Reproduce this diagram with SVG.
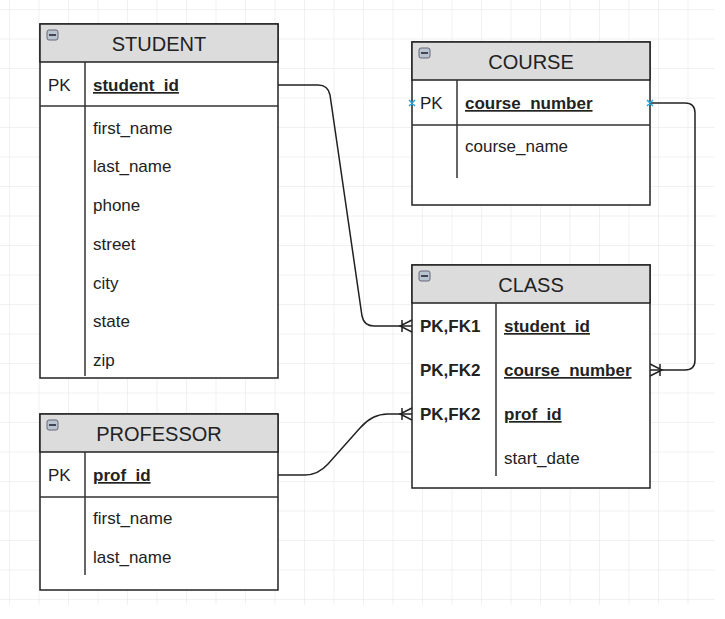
<svg xmlns="http://www.w3.org/2000/svg" width="725" height="619" viewBox="0 0 725 619">
<style>
.box{fill:#fff;stroke:#222;stroke-width:1.5}
.hd{fill:#dcdcdc;stroke:#222;stroke-width:1.5}
.ln{stroke:#333;stroke-width:1.5;fill:none}
.t{font-family:"Liberation Sans",Arial,sans-serif;font-size:17px;fill:#222}
.h{font-family:"Liberation Sans",Arial,sans-serif;font-size:20px;fill:#222;text-anchor:middle}
.b{font-weight:bold;text-decoration:underline}
.k{font-weight:bold}
.c{stroke:#222;stroke-width:1.5;fill:none}
</style>
<defs>
<pattern id="g" width="29.5" height="29.5" patternUnits="userSpaceOnUse" x="10" y="10">
<path d="M29.5 0V29.5H0" fill="none" stroke="#e4e4e4" stroke-width="1"/>
</pattern>
<g id="mini"><rect x="0" y="0" width="11" height="10" rx="2" fill="#b8c4d0" stroke="#667"/><rect x="2" y="4" width="7" height="2" fill="#445"/></g>
</defs>
<rect width="725" height="619" fill="#fff"/>
<rect x="0" y="0" width="715" height="605" fill="url(#g)"/>
<g id="connectors">
<path class="c" d="M278,85 H318 Q328,85 330,95 L362,316 Q364,326 374,326 H412"/>
<path class="c" d="M412,320 L400,326 L412,332 M402,320 V332"/>
<path class="c" d="M650,103 H685 Q695,103 695,113 V360 Q695,370 685,370 H650"/>
<path class="c" d="M650,364 L662,370 L650,376 M660,364 V376"/>
<path class="c" d="M278,475 H305 Q318,475 328,464 L360,428 Q372,414 388,414 H412"/>
<path class="c" d="M412,408 L400,414 L412,420 M402,408 V420"/>
</g>
<g id="student">
<rect class="box" x="40" y="24" width="238" height="354"/>
<rect class="hd" x="40" y="24" width="238" height="38"/>
<use href="#mini" x="47" y="30"/>
<text class="h" x="159" y="51">STUDENT</text>
<line class="ln" x1="40" y1="106" x2="278" y2="106"/>
<line class="ln" x1="85" y1="62" x2="85" y2="376"/>
<text class="t" x="48" y="91">PK</text>
<text class="t b" x="93" y="91">student_id</text>
<text class="t" x="93" y="134">first_name</text>
<text class="t" x="93" y="172">last_name</text>
<text class="t" x="93" y="211">phone</text>
<text class="t" x="93" y="250">street</text>
<text class="t" x="93" y="289">city</text>
<text class="t" x="93" y="327">state</text>
<text class="t" x="93" y="366">zip</text>
</g>
<g id="professor">
<rect class="box" x="40" y="414" width="238" height="176"/>
<rect class="hd" x="40" y="414" width="238" height="38"/>
<use href="#mini" x="47" y="420"/>
<text class="h" x="159" y="441">PROFESSOR</text>
<line class="ln" x1="40" y1="497" x2="278" y2="497"/>
<line class="ln" x1="85" y1="452" x2="85" y2="575"/>
<text class="t" x="48" y="481">PK</text>
<text class="t b" x="93" y="481">prof_id</text>
<text class="t" x="93" y="524">first_name</text>
<text class="t" x="93" y="563">last_name</text>
</g>
<g id="course">
<rect class="box" x="412" y="42" width="238" height="163"/>
<rect class="hd" x="412" y="42" width="238" height="38"/>
<use href="#mini" x="419" y="48"/>
<text class="h" x="531" y="69">COURSE</text>
<line class="ln" x1="412" y1="125" x2="650" y2="125"/>
<line class="ln" x1="457" y1="80" x2="457" y2="178"/>
<text class="t" x="420" y="109">PK</text>
<text class="t b" x="465" y="109">course_number</text>
<text class="t" x="465" y="152">course_name</text>
<path d="M409,100 l6,6 M415,100 l-6,6 M647,100 l6,6 M653,100 l-6,6" stroke="#29a8e0" stroke-width="1.5"/>
</g>
<g id="class">
<rect class="box" x="412" y="265" width="238" height="223"/>
<rect class="hd" x="412" y="265" width="238" height="38"/>
<use href="#mini" x="419" y="271"/>
<text class="h" x="531" y="292">CLASS</text>
<line class="ln" x1="496" y1="303" x2="496" y2="476"/>
<text class="t k" x="420" y="332">PK,FK1</text>
<text class="t b" x="504" y="332">student_id</text>
<text class="t k" x="420" y="376">PK,FK2</text>
<text class="t b" x="504" y="376">course_number</text>
<text class="t k" x="420" y="420">PK,FK2</text>
<text class="t b" x="504" y="420">prof_id</text>
<text class="t" x="504" y="464">start_date</text>
</g>
</svg>
